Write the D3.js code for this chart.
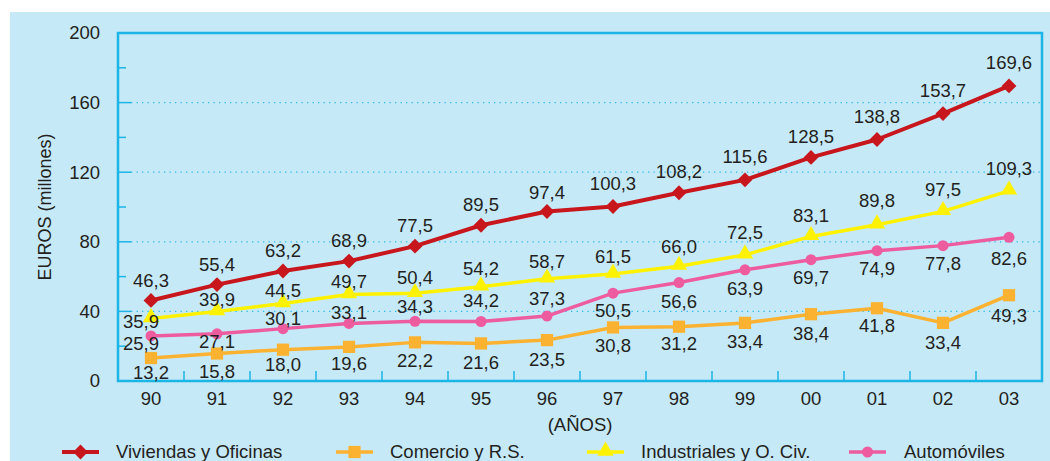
<!DOCTYPE html>
<html>
<head>
<meta charset="utf-8">
<script src="https://cdn.jsdelivr.net/npm/d3@7"></script>
<style>
  body { margin: 0; background: #ffffff; }
  svg { display: block; font-family: "Liberation Sans", Arial, sans-serif; }
</style>
</head>
<body>
<div id="svgDiv"></div>
<script>
// data
var years = ["90","91","92","93","94","95","96","97","98","99","00","01","02","03"];
var viviendas = [46.3,55.4,63.2,68.9,77.5,89.5,97.4,100.3,108.2,115.6,128.5,138.8,153.7,169.6];
var comercio = [13.2,15.8,18.0,19.6,22.2,21.6,23.5,30.8,31.2,33.4,38.4,41.8,33.4,49.3];
var industriales = [35.9,39.9,44.5,49.7,50.4,54.2,58.7,61.5,66.0,72.5,83.1,89.8,97.5,109.3];
var automoviles = [25.9,27.1,30.1,33.1,34.3,34.2,37.3,50.5,56.6,63.9,69.7,74.9,77.8,82.6];
var seriesNames = ["Viviendas y Oficinas","Comercio y R.S.","Industriales y O. Civ.","Automóviles"];
var yTicks = [0,40,80,120,160,200];

// label placement (px from the point, to the label centre)
var vivDy = [-20,-20,-21,-21,-21,-21,-19,-23,-21,-23,-21,-23,-23,-23];
var comDy = [14,18,15,17,18,19,19,18,17,19,19,17,20,20];
var indDy = [3,-12,-13,-13,-16,-18,-17,-17,-20,-22,-21,-24,-22,-22];
var autDy = [8,8,-10,-11,-15,-21,-18,17,19,19,18,18,18,21];

var width = 1050, height = 461,
    margin = {left: 118, right: 1042, top: 33, bottom: 381},
    frame = "#1bb5e6", textColor = "#231f20", fontSize = 18.5;

var svg = d3.select("#svgDiv").append("svg")
    .attr("width", width).attr("height", height);

svg.append("rect").attr("x", 10).attr("y", 12)
   .attr("width", width - 10).attr("height", height - 12)
   .attr("fill", "#c6e9f8");

var x = d3.scalePoint().domain(years).range([margin.left, margin.right]).padding(0.5);
var xBand = d3.scaleBand().domain(years).range([margin.left, margin.right]);
var y = d3.scaleLinear().domain([0, 200]).range([margin.bottom, margin.top]);

var g = svg.append("g");

// dotted gridlines
g.selectAll(".grid").data([40,80,120,160]).enter().append("line")
  .attr("x1", margin.left + 13).attr("x2", margin.right)
  .attr("y1", d => y(d)).attr("y2", d => y(d))
  .attr("stroke", "#2bbbe8").attr("stroke-width", 1.3)
  .attr("stroke-dasharray", "1.3,4.2");

// tick marks on the left side (inside)
g.selectAll(".majorTick").data([40,80,120,160]).enter().append("line")
  .attr("x1", margin.left).attr("x2", margin.left + 13)
  .attr("y1", d => y(d)).attr("y2", d => y(d))
  .attr("stroke", frame).attr("stroke-width", 1.5);
g.selectAll(".minorTick").data([20,60,100,140,180]).enter().append("line")
  .attr("x1", margin.left).attr("x2", margin.left + 8)
  .attr("y1", d => y(d)).attr("y2", d => y(d))
  .attr("stroke", frame).attr("stroke-width", 1.5);

// bottom ticks between categories
g.selectAll(".xTick").data(years.slice(1)).enter().append("line")
  .attr("x1", d => xBand(d)).attr("x2", d => xBand(d))
  .attr("y1", margin.bottom).attr("y2", margin.bottom - 10)
  .attr("stroke", frame).attr("stroke-width", 1.5);

// frame
g.append("rect")
  .attr("x", margin.left).attr("y", margin.top)
  .attr("width", margin.right - margin.left).attr("height", margin.bottom - margin.top)
  .attr("fill", "none").attr("stroke", frame).attr("stroke-width", 2.5);

// y tick labels
g.selectAll(".yLab").data(yTicks).enter().append("text")
  .attr("x", 100).attr("y", d => y(d)).attr("dy", "0.35em")
  .attr("text-anchor", "end").attr("font-size", fontSize).attr("fill", textColor)
  .text(d => d);

// x tick labels
g.selectAll(".xLab").data(years).enter().append("text")
  .attr("x", d => x(d)).attr("y", 399).attr("dy", "0.35em")
  .attr("text-anchor", "middle").attr("font-size", fontSize).attr("fill", textColor)
  .text(d => d);

g.append("text").attr("x", (margin.left + margin.right) / 2).attr("y", 425).attr("dy", "0.35em")
  .attr("text-anchor", "middle").attr("font-size", fontSize).attr("fill", textColor)
  .text("(AÑOS)");

g.append("text")
  .attr("transform", "translate(45," + (margin.top + margin.bottom) / 2 + ") rotate(-90)")
  .attr("dy", "0.35em").attr("text-anchor", "middle")
  .attr("font-size", 18).attr("fill", textColor)
  .text("EUROS (millones)");

// markers
function drawMarker(sel, shape, color) {
  if (shape == "diamond") {
    sel.append("path").attr("d", d3.symbol().type(d3.symbolSquare).size(110)())
       .attr("transform", "rotate(45)").attr("fill", color);
  } else if (shape == "square") {
    sel.append("path").attr("d", d3.symbol().type(d3.symbolSquare).size(150)()).attr("fill", color);
  } else if (shape == "triangle") {
    sel.append("path").attr("d", d3.symbol().type(d3.symbolTriangle).size(115)())
       .attr("transform", "translate(0,-1)").attr("fill", color);
  } else {
    sel.append("circle").attr("r", 5.5).attr("fill", color);
  }
}

var series = [
  {name: seriesNames[0], values: viviendas, dy: vivDy, color: "#c8161d", shape: "diamond", w: 4},
  {name: seriesNames[1], values: comercio, dy: comDy, color: "#fbb231", shape: "square", w: 3.5},
  {name: seriesNames[2], values: industriales, dy: indDy, color: "#fff200", shape: "triangle", w: 3.5},
  {name: seriesNames[3], values: automoviles, dy: autDy, color: "#ee5ca0", shape: "circle", w: 3.5}
];

var line = d3.line().x((d, i) => x(years[i])).y(d => y(d));

// draw in order so red is on top
[series[1], series[3], series[2], series[0]].forEach(function(s) {
  var sg = g.append("g");
  sg.append("path").datum(s.values).attr("d", line)
    .attr("fill", "none").attr("stroke", s.color).attr("stroke-width", s.w)
    .attr("stroke-linejoin", "round");
  sg.selectAll(".pt").data(s.values).enter().append("g")
    .attr("transform", (d, i) => "translate(" + x(years[i]) + "," + y(d) + ")")
    .each(function() { drawMarker(d3.select(this), s.shape, s.color); });
});

// value labels
series.forEach(function(s) {
  g.append("g").selectAll("text").data(s.values).enter().append("text")
    .attr("x", (d, i) => x(years[i]) + (i == 0 && (s.shape == "triangle" || s.shape == "circle") ? -10 : 0))
    .attr("y", (d, i) => y(d) + s.dy[i]).attr("dy", "0.35em")
    .attr("text-anchor", "middle").attr("font-size", fontSize).attr("fill", textColor)
    .text(d => d.toFixed(1).replace(".", ","));
});

// legend
var legendX = [62, 336, 587, 849];
var legend = g.append("g");
series.forEach(function(s, i) {
  var lg = legend.append("g").attr("transform", "translate(" + legendX[i] + ",452)");
  lg.append("line").attr("x1", 0).attr("x2", 37).attr("stroke", s.color).attr("stroke-width", s.w);
  var m = lg.append("g").attr("transform", "translate(18.5,0)");
  drawMarker(m, s.shape, s.color);
  lg.append("text").attr("x", i == 3 ? 55 : 54).attr("dy", "0.35em")
    .attr("font-size", fontSize).attr("fill", textColor).text(s.name);
});
</script>
</body>
</html>
